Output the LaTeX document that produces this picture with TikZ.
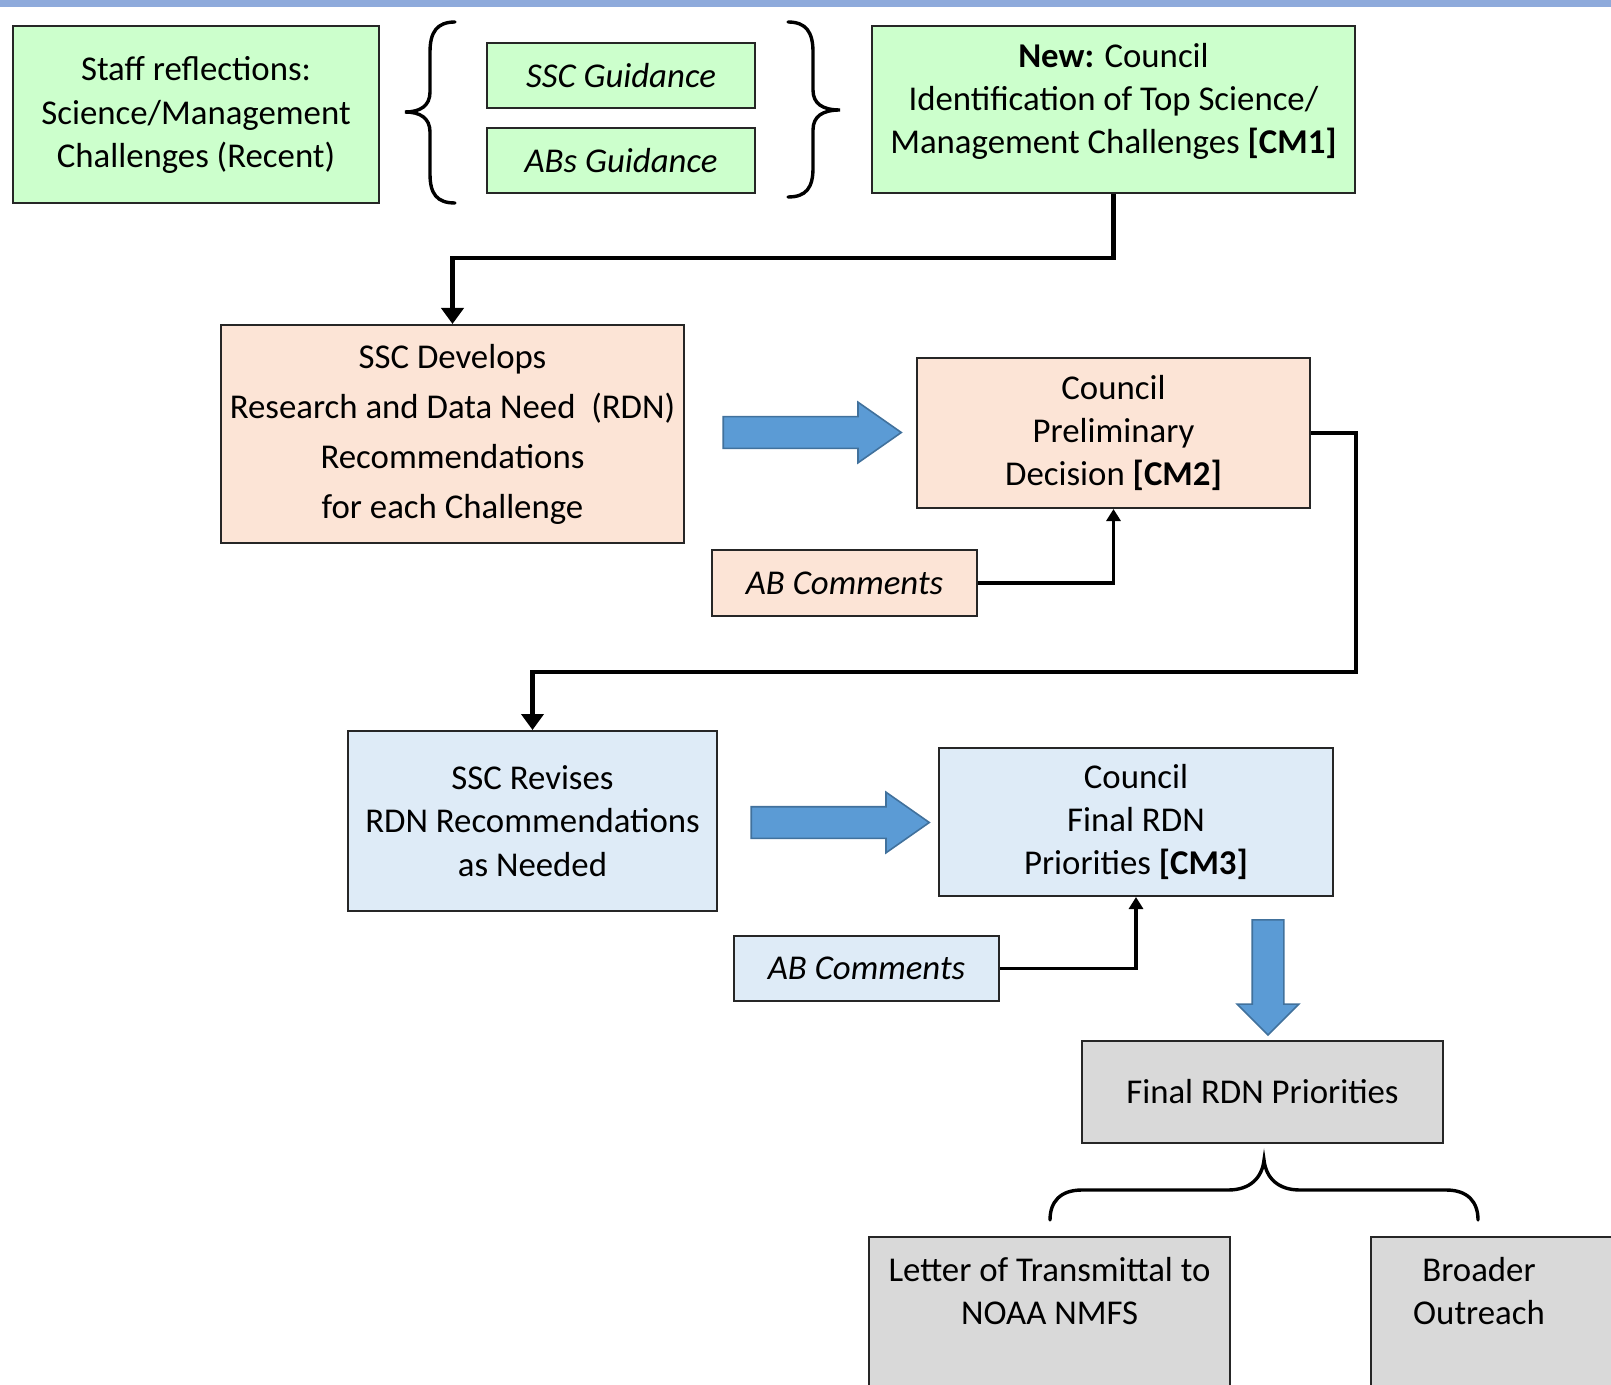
\documentclass[tikz,border=0pt]{standalone}
\usepackage{fontspec}
\setmainfont{Carlito}
\usetikzlibrary{shapes,arrows,arrows.meta,positioning,calc}

\definecolor{boxgreen}{HTML}{CCFFCC}
\definecolor{boxpeach}{HTML}{FCE4D6}
\definecolor{boxblue}{HTML}{DEEBF7}
\definecolor{boxgray}{HTML}{D9D9D9}
\definecolor{arrowfill}{HTML}{5B9BD5}
\definecolor{arrowline}{HTML}{41719C}
\definecolor{bandblue}{HTML}{8EAADB}

\begin{document}
\begin{tikzpicture}[x=0.5pt, y=-0.5pt,
    box/.style={rectangle, draw=black!85, line width=1pt, align=center, inner sep=0pt,
        font=\fontsize{17.4}{21.6}\selectfont},
    flow/.style={-{Triangle[length=8pt, width=11pt]}, line width=2.2pt},
    comment/.style={-{Triangle[length=6pt, width=7pt]}, line width=1.9pt},
    brace/.style={line width=1.7pt, line cap=round},
    blockarrow/.style={single arrow, draw=arrowline, fill=arrowfill, line width=0.8pt,
        inner xsep=0pt, inner ysep=7.5pt, single arrow head extend=7.25pt}]

    \useasboundingbox (0,0) rectangle (1611,1385);
    \clip (0,0) rectangle (1611,1385);
    \fill[bandblue] (0,0) rectangle (1611,7);

    % first row
    \node[box, fill=boxgreen, minimum width=183pt, minimum height=88.5pt] (staff) at (196,115)
        {Staff reflections:\\Science/Management\\Challenges (Recent)};
    \node[box, fill=boxgreen, minimum width=134pt, minimum height=32.5pt] (sscguide) at (621,75.5)
        {\itshape SSC Guidance};
    \node[box, fill=boxgreen, minimum width=134pt, minimum height=32.5pt] (abguide) at (621,160.5)
        {\itshape ABs Guidance};
    \node[box, fill=boxgreen, minimum width=241.5pt, minimum height=83.5pt, text depth=11pt] (cm1) at (1113.5,109.5)
        {\textbf{New:} Council\\Identification of Top Science/\\Management Challenges \textbf{[CM1]}};

    \draw[brace] (455,22) .. controls (437,22) and (430,32) .. (430,52) -- (430,92)
        .. controls (430,106) and (420,112) .. (405,112)
        .. controls (420,112) and (430,118) .. (430,132) -- (430,174)
        .. controls (430,194) and (437,203) .. (455,203);
    \draw[brace] (788,22) .. controls (806,22) and (813,32) .. (813,52) -- (813,90)
        .. controls (813,104) and (823,110) .. (840,110)
        .. controls (823,110) and (813,116) .. (813,130) -- (813,168)
        .. controls (813,188) and (806,197) .. (788,197);

    % second row
    \node[box, fill=boxpeach, minimum width=231.5pt, minimum height=109pt,
        font=\fontsize{17.4}{25}\selectfont] (develop) at (452.5,434)
        {SSC Develops\\Research and Data Need\ \ (RDN)\\Recommendations\\for each Challenge};
    \node[box, fill=boxpeach, minimum width=196.5pt, minimum height=75pt] (prelim) at (1113.5,433)
        {Council\\Preliminary\\Decision \textbf{[CM2]}};
    \node[box, fill=boxpeach, minimum width=132.5pt, minimum height=33pt] (abcomm1) at (844.5,583)
        {\itshape AB Comments};
    \node[blockarrow, minimum height=89pt, single arrow tip angle=70] (push1) at (801,432.5) {};

    \coordinate (turn1) at (1113.5,258);
    \draw[flow] (cm1.south) -- (turn1) -| (develop.north);
    \draw[comment] (abcomm1.east) -| (prelim.south);

    % third row
    \node[box, fill=boxblue, minimum width=184.5pt, minimum height=90pt] (revise) at (532.5,821)
        {SSC Revises\\RDN Recommendations\\as Needed};
    \node[box, fill=boxblue, minimum width=197pt, minimum height=74pt] (final) at (1136,822)
        {Council\\Final RDN\\Priorities \textbf{[CM3]}};
    \node[box, fill=boxblue, minimum width=132.5pt, minimum height=32.5pt] (abcomm2) at (866.5,968.5)
        {\itshape AB Comments};
    \node[blockarrow, minimum height=89pt, single arrow tip angle=70] (push2) at (829,822.5) {};
    \node[blockarrow, minimum height=57.5pt, single arrow head extend=7.5pt,
        single arrow tip angle=90, rotate=-90] (push3) at (1268,969.5) {};

    \coordinate (turn2) at (1356,672);
    \draw[flow] (prelim.east) -| (turn2) -| (revise.north);
    \draw[comment] (abcomm2.east) -| (final.south);

    % outputs
    \node[box, fill=boxgray, minimum width=180.5pt, minimum height=51pt] (rdn) at (1262.5,1092)
        {Final RDN Priorities};
    \node[box, fill=boxgray, anchor=north, minimum width=180.5pt, inner ysep=10pt, text depth=60pt] (letter) at (1049.5,1236)
        {Letter of Transmittal to\\NOAA NMFS};
    \node[box, fill=boxgray, anchor=north west, inner ysep=10pt, text depth=60pt] (outreach) at (1370,1236)
        {\parbox[t]{108pt}{\centering Broader\\Outreach}\hspace{100pt}};

    \draw[brace] (1050,1220) .. controls (1050,1202) and (1060,1190) .. (1082,1190) -- (1228,1190)
        .. controls (1250,1190) and (1262,1178) .. (1264,1160)
        .. controls (1266,1178) and (1278,1190) .. (1300,1190) -- (1446,1190)
        .. controls (1468,1190) and (1478,1202) .. (1478,1220);
\end{tikzpicture}
\end{document}
